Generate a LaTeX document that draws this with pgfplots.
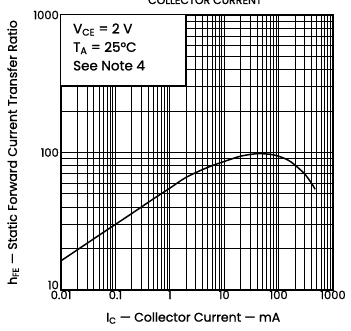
\documentclass[border=0pt]{standalone}
\usepackage{pgfplots}
\pgfplotsset{compat=1.18}
\usepackage{fontspec}
\setmainfont{Poppins}[FakeBold=1.2]
\begin{document}
\begin{tikzpicture}
\begin{axis}[
  scale only axis,
  width=272pt, height=275pt,
  at={(0,0)}, anchor=south west,
  xmode=log, ymode=log,
  xmin=0.01, xmax=1000, ymin=10, ymax=1000,
  xtick={0.01,0.1,1,10,100,1000},
  xticklabels={0.01,0.1,1,10,100,1000},
  ytick={100,1000},
  yticklabels={100,1000},
  extra y ticks={10},
  extra y tick labels={10},
  extra y tick style={yticklabel style={yshift=5pt}, grid=none},
  minor xtick={0.02,0.03,0.04,0.05,0.06,0.07,0.08,0.09,0.2,0.3,0.4,0.5,0.6,0.7,0.8,0.9,2,3,4,5,6,7,8,9,20,30,40,50,60,70,80,90,200,300,400,500,600,700,800,900},
  minor ytick={20,30,40,50,60,70,80,90,200,300,400,500,600,700,800,900},
  grid=both,
  major grid style={black, line width=0.9pt},
  minor grid style={black, line width=0.85pt},
  axis line style={black, line width=1.2pt},
  tick style={draw=none},
  major tick length=0pt, minor tick length=0pt,
  /pgf/number format/assume math mode=true,
  tick label style={font=\fontsize{11.5}{13}\selectfont},
  xticklabel style={inner sep=0.5pt},
  yticklabel style={inner sep=1pt, xshift=-1pt},
  xlabel={I\textsubscript{C} — Collector Current — mA},
  ylabel={h\textsubscript{FE} — Static Forward Current Transfer Ratio},
  label style={font=\fontsize{12.5}{14}\selectfont},
  xlabel style={at={(axis description cs:0.486,-0.102)}, anchor=center},
  ylabel style={at={(axis description cs:-0.176,0.5)}, anchor=center, rotate=0},
]
\draw[fill=white, draw=black, line width=1pt] (rel axis cs:0,0.742) rectangle (rel axis cs:0.456,1);
\node[anchor=north west, align=left, font=\fontsize{13.5}{18.5}\selectfont, inner sep=0pt] at (rel axis cs:0.044,0.97)
  {V\textsubscript{CE} = 2 V\\T\textsubscript{A} = 25°C\\See Note 4};
\addplot[black, line width=1.5pt, smooth] coordinates {
(0.01,16.3) (0.02,19.6) (0.05,25.0) (0.1,30) (0.2,36) (0.5,46) (1,55) (2,66)
(5,78) (10,86) (20,94) (40,98) (70,97) (100,94) (150,88) (200,81) (300,70) (400,60) (470,54)
};
\end{axis}
\node[anchor=base, font=\fontsize{11}{12}\selectfont] at (144pt,286pt) {COLLECTOR CURRENT};
\pgfresetboundingbox
\useasboundingbox (-61pt,-41pt) rectangle (290pt,290pt);
\end{tikzpicture}
\end{document}
